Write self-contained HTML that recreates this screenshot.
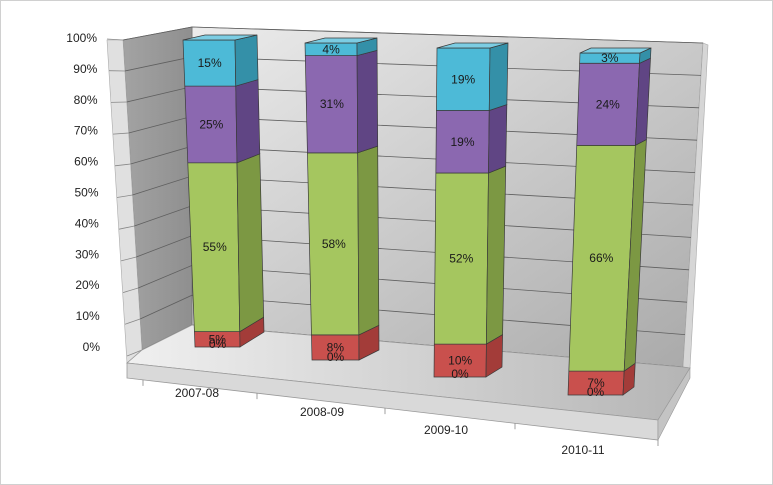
<!DOCTYPE html>
<html><head><meta charset="utf-8"><style>
html,body{margin:0;padding:0;background:#fff}
svg{display:block}
text{font-family:"Liberation Sans",sans-serif}
</style></head><body>
<svg id="chart" width="773" height="485" viewBox="0 0 773 485" xmlns="http://www.w3.org/2000/svg">
<defs>
<linearGradient id="backG" x1="0" y1="0" x2="1" y2="1"><stop offset="0" stop-color="#ececec"/><stop offset="1" stop-color="#a9a9a9"/></linearGradient>
<linearGradient id="floorG" x1="0" y1="0" x2="1" y2="0"><stop offset="0" stop-color="#f0f0f0"/><stop offset="1" stop-color="#b5b5b5"/></linearGradient>
<linearGradient id="leftG" x1="0" y1="0" x2="1" y2="0"><stop offset="0" stop-color="#a3a3a3"/><stop offset="1" stop-color="#8f8f8f"/></linearGradient>
</defs>
<rect x="0.5" y="0.5" width="772" height="484" fill="#fff" stroke="#d0d0d0"/>
<polygon points="192,27 703,43 683,367 192,325" fill="url(#backG)" stroke="#8a8a8a" stroke-width="0.8"/>
<polygon points="123,40 192,27 192,325 142,350" fill="url(#leftG)" stroke="#777" stroke-width="0.8"/>
<polygon points="107,40 123,40 142,350 127,363" fill="#e0e0e0" stroke="#aaa" stroke-width="0.6"/>
<polygon points="703,43 708,45 690,368 683,367" fill="#d6d6d6" stroke="#aaa" stroke-width="0.6"/>
<g id="grid"></g>
<polygon points="142,350 192,325 683,367 690,368 658,420 127,363" fill="url(#floorG)" stroke="#999" stroke-width="0.8"/>
<polygon points="127,363 658,420 658,440 127,378" fill="#d9d9d9" stroke="#999" stroke-width="0.8"/>
<polygon points="658,420 690,368 690,378 658,440" fill="#c4c4c4" stroke="#999" stroke-width="0.6"/>
<g id="ylabels"></g>
<g id="xaxis"></g>
<g id="bars"></g>
</svg>
<script>
const categories = ["2007-08","2008-09","2009-10","2010-11"];
const seriesZero = [0,0,0,0];
const seriesRed = [5,8,10,7];
const seriesGreen = [55,58,52,66];
const seriesPurple = [25,31,19,24];
const seriesCyan = [15,4,19,3];
const yTicks = ["0%","10%","20%","30%","40%","50%","60%","70%","80%","90%","100%"];

const NS="http://www.w3.org/2000/svg";
function mk(tag,attrs,parent){const e=document.createElementNS(NS,tag);for(const k in attrs)e.setAttribute(k,attrs[k]);parent.appendChild(e);return e;}

const geom=[
 {y0:347,y1:40,xl0:195,xl1:183,xr0:240,xr1:235,dx0:24,dx1:22,dy0:-15,dy1:-5,lx:197,ly:397,tx:143},
 {y0:360,y1:43,xl0:312,xl1:305,xr0:359,xr1:357,dx0:20,dx1:20,dy0:-10,dy1:-5,lx:322,ly:416,tx:257},
 {y0:377,y1:48,xl0:434,xl1:437,xr0:486,xr1:490,dx0:16,dx1:18,dy0:-10,dy1:-5,lx:446,ly:434,tx:385},
 {y0:395,y1:53,xl0:568,xl1:580,xr0:623,xr1:640,dx0:11,dx1:11,dy0:-8,dy1:-5,lx:583,ly:454,tx:515}
];
const colors=[
 {f:"#c9504d",s:"#a33c39",t:"#d97672"},
 {f:"#c9504d",s:"#a33c39",t:"#d97672"},
 {f:"#a5c65f",s:"#7c9843",t:"#bcd886"},
 {f:"#8b68b0",s:"#604584",t:"#a58bc6"},
 {f:"#4dbad7",s:"#3490a8",t:"#7ccde3"}
];
const lerp=(a,b,t)=>a+(b-a)*t;

const grid=document.getElementById('grid'), yl=document.getElementById('ylabels');
yTicks.forEach((lab,i)=>{
  const v=i/10;
  const fx=lerp(142,123,v), fy=lerp(350,40,v);
  const by=lerp(325,27,v), ry=lerp(367,43,v), rx=lerp(683,703,v);
  const l=mk('polyline',{points:`${fx},${fy} 192,${by} ${rx},${ry}`,fill:'none',stroke:'#5f5f5f','stroke-width':0.8},grid);
  
  
  const t=mk('line',{x1:lerp(127,107,v),y1:lerp(356,39,v),x2:fx,y2:fy,stroke:'#888','stroke-width':0.8},grid);
  
  
  const tx=mk('text',{x:lerp(100,97,v),y:lerp(351,42,v),'text-anchor':'end','font-size':12,fill:'#222'},yl);
  tx.textContent=lab;
  
  
});

const xa=document.getElementById('xaxis');
[143,257,385,515,658].forEach(x=>{
  const y=lerp(378,440,(x-127)/(658-127));
  const tk=mk('line',{x1:x,y1:y,x2:x,y2:y+6,stroke:'#888','stroke-width':0.8},xa);
  
  
});
categories.forEach((c,i)=>{
  const t=mk('text',{x:geom[i].lx,y:geom[i].ly,'text-anchor':'middle','font-size':12,fill:'#222'},xa);
  t.textContent=c;
  
  
});

const barsG=document.getElementById('bars');
const allSeries=[seriesZero,seriesRed,seriesGreen,seriesPurple,seriesCyan];
const segNames=["zero","red","green","purple","cyan"];
categories.forEach((c,i)=>{
  const g=geom[i];
  const P=(v)=>({y:lerp(g.y0,g.y1,v),xl:lerp(g.xl0,g.xl1,v),xr:lerp(g.xr0,g.xr1,v),dx:lerp(g.dx0,g.dx1,v),dy:lerp(g.dy0,g.dy1,v)});
  const total=allSeries.reduce((s,a)=>s+a[i],0)||1;
  const grp=mk('g',{},barsG);
  
  
  let acc=0;
  const labels=[];
  allSeries.forEach((arr,si)=>{
    const val=arr[i];
    const a=acc/total, b=(acc+val)/total; acc+=val;
    const A=P(a),B=P(b),col=colors[si];
    if(val>0){
      const f=mk('polygon',{points:`${A.xl},${A.y} ${A.xr},${A.y} ${B.xr},${B.y} ${B.xl},${B.y}`,fill:col.f,stroke:'#3a3a3a','stroke-width':0.7},grp);
      
      
      const s=mk('polygon',{points:`${A.xr},${A.y} ${A.xr+A.dx},${A.y+A.dy} ${B.xr+B.dx},${B.y+B.dy} ${B.xr},${B.y}`,fill:col.s,stroke:'#3a3a3a','stroke-width':0.7},grp);
      
      
      if(acc>=total){
        const tp=mk('polygon',{points:`${B.xl},${B.y} ${B.xr},${B.y} ${B.xr+B.dx},${B.y+B.dy} ${B.xl+B.dx},${B.y+B.dy}`,fill:col.t,stroke:'#3a3a3a','stroke-width':0.7},grp);
        
        
      }
    }
    const m=P((a+b)/2);
    labels.push({x:(m.xl+m.xr)/2,y:val>0?m.y+4:A.y+1,t:val+'%'});
  });
  labels.forEach(L=>{
    const t=mk('text',{x:L.x,y:L.y,'text-anchor':'middle','font-size':12,fill:'#1a1a1a'},grp);
    t.textContent=L.t;
    
    
  });
});
</script>
</body></html>
